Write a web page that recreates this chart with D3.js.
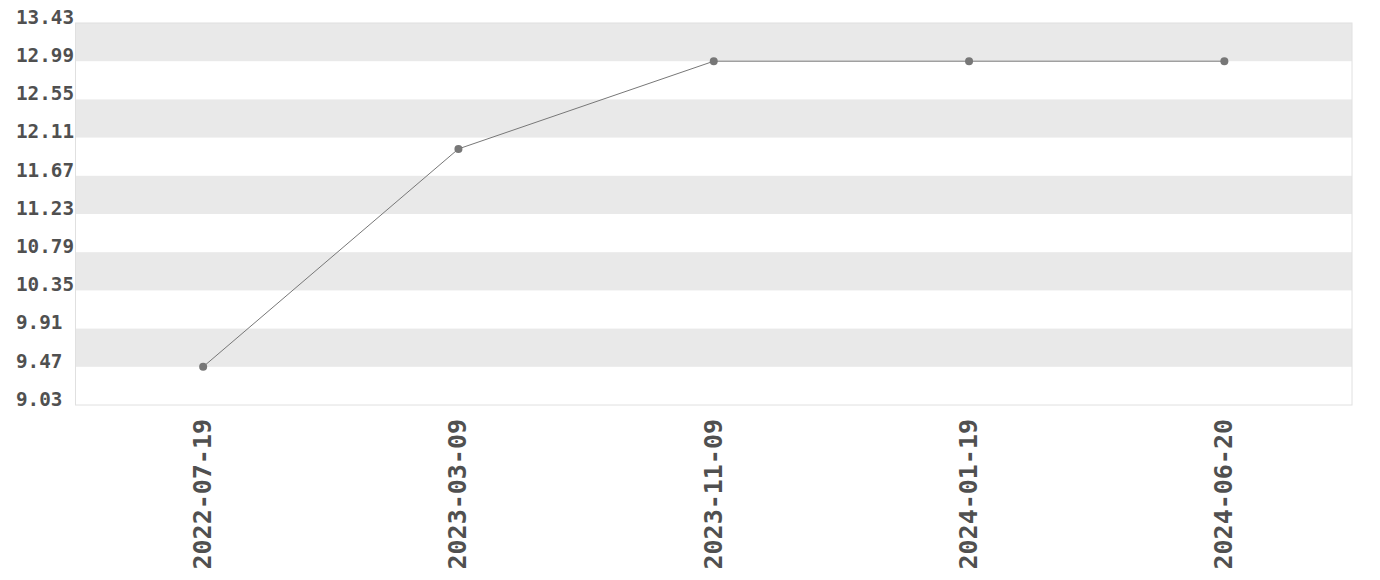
<!DOCTYPE html>
<html><head><meta charset="utf-8">
<script src="https://cdn.jsdelivr.net/npm/d3@7"></script>
<style>body{margin:0;background:#fff;}svg{display:block;}</style>
</head><body>
<script>
const dates = ["2022-07-19","2023-03-09","2023-11-09","2024-01-19","2024-06-20"];
const values = [9.47, 11.98, 12.99, 12.99, 12.99];
const yTicks = [9.03, 9.47, 9.91, 10.35, 10.79, 11.23, 11.67, 12.11, 12.55, 12.99, 13.43];

const W = 1380, H = 580;
const m = {left: 75.5, right: 28, top: 23, bottom: 175};
const svg = d3.select("body").append("svg").attr("width", W).attr("height", H);
const x = d3.scalePoint().domain(dates).range([m.left, W - m.right]).padding(0.5);
const y = d3.scaleLinear().domain([9.03, 13.43]).range([H - m.bottom, m.top]);

// bands
const bands = d3.range(yTicks.length - 1).filter(i => (yTicks.length - 2 - i) % 2 === 0);
svg.append("g").selectAll("rect").data(bands).join("rect")
  .attr("x", m.left).attr("width", W - m.right - m.left)
  .attr("y", i => y(yTicks[i + 1])).attr("height", i => y(yTicks[i]) - y(yTicks[i + 1]))
  .attr("fill", "#e9e9e9");
svg.append("rect").attr("x", m.left).attr("y", m.top)
  .attr("width", W - m.right - m.left).attr("height", H - m.bottom - m.top)
  .attr("fill", "none").attr("stroke", "#e0e0e0").attr("stroke-width", 1);

const yAxis = svg.append("g").attr("transform", `translate(${m.left},0)`)
  .call(d3.axisLeft(y).tickValues(yTicks).tickFormat(d3.format(".2f")).tickSize(0));
yAxis.select(".domain").remove();
yAxis.selectAll("text").attr("font-family", "'DejaVu Sans Mono', monospace").attr("font-weight", "bold")
  .attr("font-size", 19.3).attr("fill", "#505050").attr("dy", "0.02em")
  .attr("text-anchor", "start").attr("x", 16 - m.left);

const xAxis = svg.append("g").attr("transform", `translate(0,${H - m.bottom})`)
  .call(d3.axisBottom(x).tickSize(0));
xAxis.select(".domain").remove();
xAxis.selectAll("text").attr("font-family", "'DejaVu Sans Mono', monospace").attr("font-weight", "bold")
  .attr("font-size", 25).attr("fill", "#505050")
  .attr("text-anchor", "end").attr("dy", "0.3em")
  .attr("transform", "translate(0,14) rotate(-90)").attr("y", 0).attr("x", 0);

const line = d3.line().x((d, i) => x(dates[i])).y(d => y(d));
svg.append("path").datum(values).attr("d", line).attr("fill", "none")
  .attr("stroke", "#777").attr("stroke-width", 1);
svg.append("g").selectAll("circle").data(values).join("circle")
  .attr("cx", (d, i) => x(dates[i])).attr("cy", d => y(d)).attr("r", 4).attr("fill", "#777");
</script>
</body></html>
